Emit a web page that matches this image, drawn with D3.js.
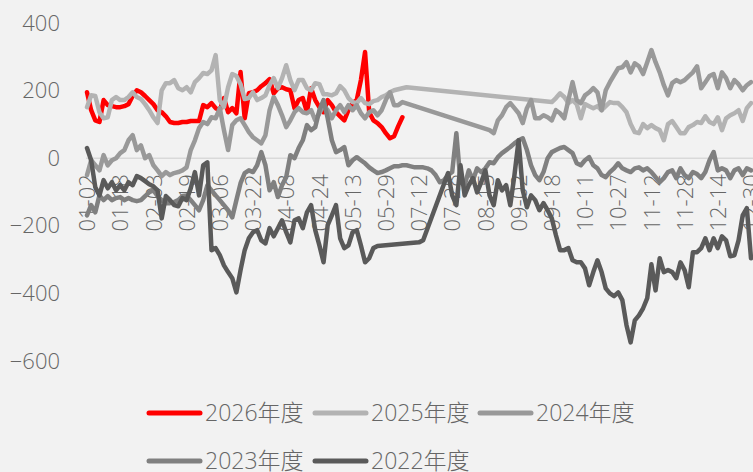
<!DOCTYPE html>
<html>
<head>
<meta charset="utf-8">
<script src="https://cdn.jsdelivr.net/npm/d3@7/dist/d3.min.js"></script>
<style>
  html, body { margin: 0; padding: 0; background: #f2f2f2; }
  svg { display: block; }
  text { font-family: "Open Sans", "Noto Sans CJK SC", sans-serif; font-weight: 300; }
</style>
</head>
<body>
<svg id="chart" width="753" height="472"></svg>
<script>
const categories = (
  "01-02 01-04 01-06 01-08 01-10 01-12 01-14 01-16 " +
  "01-18 01-20 01-22 01-24 01-26 01-28 01-30 02-01 " +
  "02-03 02-05 02-07 02-09 02-11 02-13 02-15 02-17 " +
  "02-19 02-21 02-23 02-25 02-27 02-29 03-02 03-04 " +
  "03-06 03-08 03-10 03-12 03-14 03-16 03-18 03-20 " +
  "03-22 03-24 03-26 03-28 03-30 04-01 04-03 04-05 " +
  "04-08 04-10 04-12 04-14 04-16 04-18 04-20 04-22 " +
  "04-24 04-26 04-28 04-30 05-06 05-07 05-09 05-11 " +
  "05-13 05-15 05-17 05-19 05-21 05-23 05-25 05-27 " +
  "05-29 05-31 06-04 06-10 06-17 06-24 07-01 07-08 " +
  "07-12 07-14 07-16 07-18 07-20 07-22 07-24 07-26 " +
  "07-28 07-30 08-01 08-03 08-05 08-07 08-09 08-12 " +
  "08-15 08-17 08-19 08-21 08-23 08-26 08-28 08-30 " +
  "09-02 09-04 09-06 09-08 09-10 09-12 09-14 09-16 " +
  "09-18 09-20 09-22 09-24 09-26 09-28 10-08 10-09 " +
  "10-11 10-13 10-15 10-17 10-19 10-21 10-23 10-25 " +
  "10-27 10-29 10-31 11-02 11-04 11-06 11-08 11-10 " +
  "11-12 11-14 11-16 11-18 11-20 11-22 11-24 11-26 " +
  "11-28 11-30 12-02 12-04 12-06 12-08 12-10 12-12 " +
  "12-14 12-16 12-18 12-20 12-22 12-24 12-26 12-28 " +
  "12-30").split(" ");

const tickLabels = ["01-02","01-18","02-03","02-19","03-06","03-22","04-08","04-24",
  "05-13","05-29","07-12","07-28","08-15","09-02","09-18","10-11","10-27","11-12",
  "11-28","12-14","12-30"];

const yTicks = [400, 200, 0, -200, -400, -600];

const seriesNames = ["2026年度", "2025年度", "2024年度", "2023年度", "2022年度"];

const s2026 = [195,142,112,107,172,157,154,151,151,154,
  160,184,201,195,184,172,160,142,136,124,
  107,104,104,107,107,110,110,110,157,151,
  163,148,142,178,136,148,133,255,118,192,
  195,201,213,222,234,192,207,210,204,201,
  148,172,178,136,207,172,151,136,172,157,
  136,124,112,142,163,172,231,314,136,112,
  104,92,74,59,65,95,121];

const s2025 = [151,186,184,136,118,121,172,181,172,172,
  181,195,181,175,160,142,121,104,201,222,
  222,231,207,201,210,195,225,237,252,249,
  260,305,172,151,210,249,243,219,175,178,
  195,172,178,186,216,237,207,237,275,231,
  201,231,231,207,201,222,219,189,189,186,
  192,213,201,178,166,163,178,163,160,169,
  172,181,186,195,201,204,207,210,
  null,null,null,null,null,null,null,null,null,null,
  null,null,null,null,null,null,null,null,null,null,
  null,null,null,null,null,null,null,null,null,null,
  null,null,null,null,
  166,178,192,181,163,172,160,118,160,154,
  148,154,142,154,166,163,163,151,136,101,
  77,74,101,89,98,89,83,53,101,110,
  92,74,74,92,98,107,104,124,107,101,
  121,83,118,127,133,142,110,148,163];

const s2024 = [-50,-6,-21,-36,9,-21,-6,0,15,24,
  53,68,24,38,0,9,-21,-36,-53,-41,
  -50,-44,-41,-36,-27,24,53,89,107,101,
  121,118,148,83,24,98,112,118,98,77,
  62,53,44,68,142,181,157,127,92,112,
  136,148,136,133,142,112,133,157,142,118,
  142,157,136,157,142,157,133,118,136,142,
  127,142,172,195,157,157,166,
  null,null,null,null,null,null,null,null,null,null,
  null,null,null,null,null,null,null,null,null,null,
  83,74,112,127,151,163,148,133,104,148,
  172,118,118,127,121,112,142,133,118,172,
  225,172,163,186,195,207,195,142,201,225,
  246,266,269,284,254,281,272,249,284,320,
  284,254,216,186,222,231,225,231,243,254,
  272,207,225,243,249,207,254,237,207,231,
  219,201,216,225];

const s2023 = [-169,-139,-160,-110,-124,-112,-124,-118,-115,-124,
  -118,-124,-127,-124,-112,-101,-95,-112,-124,-133,
  -133,-130,-124,-112,-110,-124,-139,-154,-124,-80,
  -95,-110,-124,-139,-154,-175,-124,-74,-44,-36,
  -41,-21,18,-21,-95,-71,-115,-80,-56,9,
  0,30,53,98,83,92,142,172,118,53,
  18,24,33,-21,-6,3,-6,-15,-27,-36,
  -44,-41,-36,-30,-24,-24,-21,-21,-24,-27,
  -27,-27,-30,-36,-50,-71,-65,-50,-41,74,
  -71,-80,-36,-65,-30,-41,-30,-12,-15,3,
  15,24,33,44,53,59,24,-21,-50,-65,
  -41,0,18,24,30,33,24,15,-15,-21,
  -6,3,-21,-30,-50,-56,-41,-30,-15,-30,
  -36,-41,-30,-27,-36,-30,-41,-56,-71,-59,
  -41,-36,-59,-30,-50,-59,-41,-47,-59,-41,
  -6,18,-36,-30,-36,-59,-36,-30,-50,-30,-36];

const s2022 = [30,-6,-86,-110,-65,-89,-71,-95,-80,-95,
  -71,-80,-53,-59,-68,-77,-83,-95,-178,-112,
  -124,-139,-142,-118,-124,-89,-41,-110,-21,-12,
  -272,-266,-287,-317,-337,-355,-397,-331,-272,-237,
  -219,-213,-243,-252,-207,-231,-207,-184,-219,-249,
  -184,-178,-207,-160,-139,-213,-258,-308,-198,-169,
  -139,-237,-266,-258,-219,-213,-258,-308,-296,-266,
  -260,
  null,null,null,null,null,null,null,null,null,
  -249,-243,
  null,null,null,null,null,
  -44,
  -110,-139,-21,-110,-80,-59,-101,-71,-36,-110,
  -139,-65,-95,-80,-139,-50,53,-95,-145,-110,
  -124,-154,-133,-154,-178,-228,-272,-272,-266,-302,
  -308,-308,-326,-376,-337,-302,-337,-385,-400,-408,
  -397,-420,-494,-545,-480,-465,-444,-414,-314,-391,
  -296,-337,-331,-337,-355,-308,-331,-382,-278,-278,
  -266,-237,-272,-237,-266,-231,-243,-290,-287,-243,
  -169,-148,-296];

const seriesValues = [s2026, s2025, s2024, s2023, s2022];
const seriesColors = ["#ff0000", "#b3b3b3", "#999999", "#808080", "#5a5a5a"];

const svg = d3.select("#chart");
svg.append("rect").attr("width", 753).attr("height", 472).attr("fill", "#f2f2f2");

const x = d3.scalePoint().domain(categories).range([87, 751]);
const y = d3.scaleLinear().domain([-600, 400]).range([361, 23]);

// zero axis line
svg.append("line")
  .attr("x1", 86).attr("x2", 753)
  .attr("y1", y(0)).attr("y2", y(0))
  .attr("stroke", "#d9d9d9").attr("stroke-width", 1.5);

// y axis labels
const yAxis = d3.axisLeft(y).tickValues(yTicks).tickSize(0).tickPadding(0);
const gy = svg.append("g").attr("transform", "translate(60,0)").call(yAxis);
gy.select(".domain").remove();
gy.selectAll("text")
  .attr("fill", "#666")
  .style("font-size", "22px")
  .style("font-family", "'Open Sans', sans-serif")
  .style("font-weight", 300);

// x axis labels (rotated)
const xAxis = d3.axisBottom(x).tickValues(tickLabels).tickSize(0).tickPadding(0);
const gx = svg.append("g").attr("transform", `translate(0,${y(0)})`).call(xAxis);
gx.select(".domain").remove();
gx.selectAll("text")
  .attr("fill", "#666")
  .style("font-size", "22px")
  .style("font-family", "'Open Sans', sans-serif")
  .style("font-weight", 300)
  .attr("text-anchor", "end")
  .attr("dy", "0.35em")
  .attr("y", 0)
  .attr("transform", "translate(0,16) rotate(-90)");

// lines
const line = d3.line()
  .x(d => x(d.c))
  .y(d => y(d.v));

seriesValues.forEach((vals, k) => {
  const pts = vals.map((v, i) => ({ c: categories[i], v })).filter(d => d.v !== null && d.v !== undefined);
  svg.append("path")
    .datum(pts)
    .attr("fill", "none")
    .attr("stroke", seriesColors[k])
    .attr("stroke-width", 4.5)
    .attr("stroke-linejoin", "round")
    .attr("stroke-linecap", "round")
    .attr("d", line);
});

// legend
const legendPos = [[147, 413], [313, 413], [478, 413], [147, 461], [313, 461]];
seriesNames.forEach((name, k) => {
  const [lx, ly] = legendPos[k];
  const g = svg.append("g").attr("transform", `translate(${lx},${ly})`);
  g.append("line")
    .attr("x1", 2).attr("x2", 53).attr("y1", 0).attr("y2", 0)
    .attr("stroke", seriesColors[k]).attr("stroke-width", 5)
    .attr("stroke-linecap", "round");
  g.append("text")
    .attr("x", 58).attr("y", 0).attr("dy", "0.35em")
    .attr("fill", "#666")
    .style("font-size", "23px")
    .text(name);
});
</script>
</body>
</html>
